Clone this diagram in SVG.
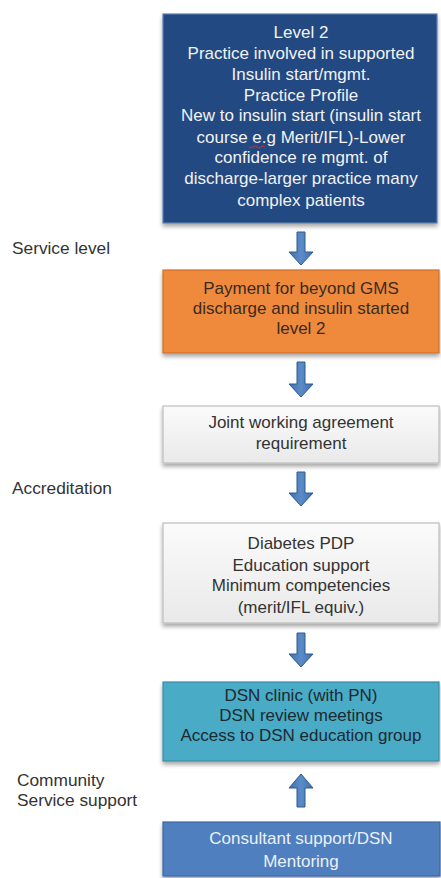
<svg xmlns="http://www.w3.org/2000/svg" width="441" height="878" viewBox="0 0 441 878">
<defs>
<linearGradient id="gWhite" x1="0" y1="0" x2="0" y2="1"><stop offset="0" stop-color="#fbfbfb"/><stop offset="1" stop-color="#e9e9e9"/></linearGradient>
<linearGradient id="gArrow" x1="0" y1="0" x2="1" y2="0"><stop offset="0" stop-color="#3f6fae"/><stop offset="0.5" stop-color="#5b8cc8"/><stop offset="1" stop-color="#3f6fae"/></linearGradient>
<filter id="sh" x="-5%" y="-5%" width="110%" height="130%"><feGaussianBlur in="SourceAlpha" stdDeviation="2"/><feOffset dy="3"/><feComponentTransfer><feFuncA type="linear" slope="0.35"/></feComponentTransfer><feMerge><feMergeNode/><feMergeNode in="SourceGraphic"/></feMerge></filter>
</defs>
<style>
text{font-family:"Liberation Sans",Arial,sans-serif;font-size:17px;text-anchor:middle}
.lbl{font-size:17.3px;text-anchor:start;fill:#333}
.box{stroke-width:1.2}
.arrow{fill:url(#gArrow);stroke:#2f5a8f;stroke-width:1}
</style>
<rect width="441" height="878" fill="#ffffff"/>
<g id="labels">
<text class="lbl" x="12" y="254">Service level</text>
<text class="lbl" x="12" y="494">Accreditation</text>
<text class="lbl" x="17" y="786">Community</text>
<text class="lbl" x="17" y="806">Service support</text>
</g>
<g id="node-level2">
<rect class="box" x="163" y="14" width="274" height="209" fill="#234a82" stroke="#5a7fb0" filter="url(#sh)"/>
<g fill="#f2f2f2">
<text x="301" y="38">Level 2</text>
<text x="301" y="59">Practice involved in supported</text>
<text x="301" y="80">Insulin start/mgmt.</text>
<text x="301" y="101">Practice Profile</text>
<text x="301" y="121">New to insulin start (insulin start</text>
<text x="301" y="143">course e.g Merit/IFL)-Lower</text>
<text x="301" y="163">confidence re mgmt. of</text>
<text x="301" y="184">discharge-larger practice many</text>
<text x="301" y="206">complex patients</text>
</g>
<path d="M249 147 q2 2 4 0 q2 -2 4 0 q2 2 4 0 q2 -2 4 0" fill="none" stroke="#d03030" stroke-width="1"/>
</g>
<g id="node-payment">
<rect class="box" x="163" y="270" width="276" height="83" fill="#ef8a3c" stroke="#d0702a" filter="url(#sh)"/>
<g fill="#3a2a20">
<text x="301" y="294">Payment for beyond GMS</text>
<text x="301" y="314">discharge and insulin started</text>
<text x="301" y="334">level 2</text>
</g>
</g>
<g id="node-joint">
<rect class="box" x="163" y="406" width="276" height="57" fill="url(#gWhite)" stroke="#bdbdbd" filter="url(#sh)"/>
<g fill="#333">
<text x="301" y="428">Joint working agreement</text>
<text x="301" y="449">requirement</text>
</g>
</g>
<g id="node-pdp">
<rect class="box" x="163" y="523" width="276" height="100" fill="url(#gWhite)" stroke="#bdbdbd" filter="url(#sh)"/>
<g fill="#333">
<text x="301" y="549">Diabetes PDP</text>
<text x="301" y="571">Education support</text>
<text x="301" y="591">Minimum competencies</text>
<text x="301" y="613">(merit/IFL equiv.)</text>
</g>
</g>
<g id="node-dsn">
<rect class="box" x="163" y="682" width="276" height="79" fill="#4aabc6" stroke="#3a8ca6" filter="url(#sh)"/>
<g fill="#1c2a30">
<text x="301" y="701">DSN clinic (with PN)</text>
<text x="301" y="721">DSN review meetings</text>
<text x="301" y="741">Access to DSN education group</text>
</g>
</g>
<g id="node-consultant">
<rect class="box" x="163" y="822" width="277" height="54" fill="#4f7fbe" stroke="#3b68a2" filter="url(#sh)"/>
<g fill="#eaf0f8">
<text x="301" y="844">Consultant support/DSN</text>
<text x="301" y="867">Mentoring</text>
</g>
</g>
<g id="connectors">
<path class="arrow" d="M297 232 H305 V252 H313 L301 265 L289 252 H297 Z"/>
<path class="arrow" d="M297 362 H305 V384 H313 L301 397 L289 384 H297 Z"/>
<path class="arrow" d="M297 472 H305 V493 H313 L301 506 L289 493 H297 Z"/>
<path class="arrow" d="M297 633 H305 V654 H313 L301 667 L289 654 H297 Z"/>
<path class="arrow" d="M297 807 H305 V788 H313 L301 774 L289 788 H297 Z"/>
</g>
</svg>
